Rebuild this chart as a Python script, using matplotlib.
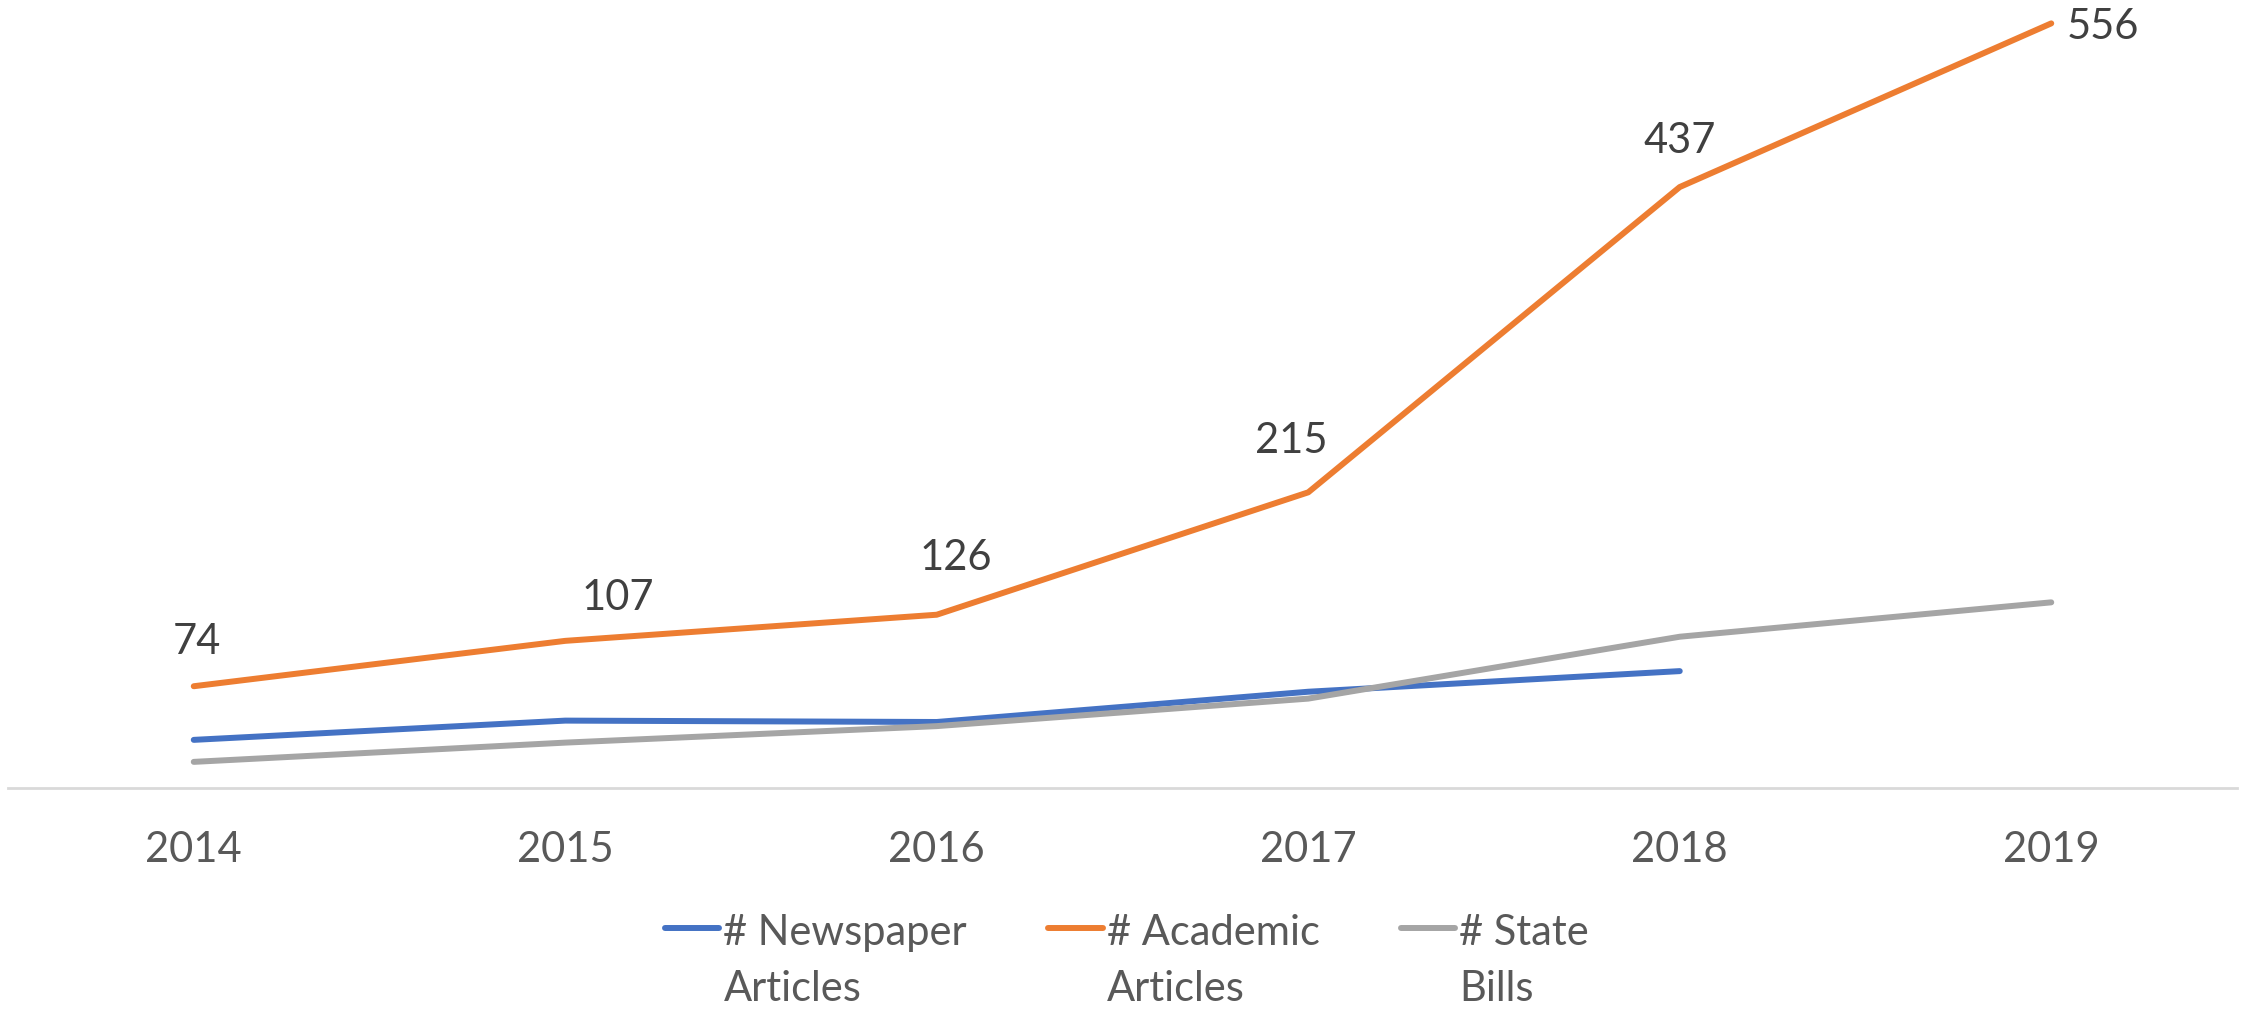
# plot.py
# Newspaper articles, academic articles and state bills per year

import matplotlib
matplotlib.use("Agg")
import matplotlib.pyplot as plt

# Data
YEARS = ["2014", "2015", "2016", "2017", "2018", "2019"]
NEWSPAPER = [35, 49, 48, 70, 85, None]
ACADEMIC = [74, 107, 126, 215, 437, 556]
STATE_BILLS = [19, 33, 45, 65, 110, 135]
SERIES_NAMES = ["# Newspaper\nArticles", "# Academic\nArticles", "# State\nBills"]

COLORS = ["#4472C4", "#ED7D31", "#A5A5A5"]
# pixel offsets of the orange data labels (Excel placed them by hand)
LABEL_OFFSETS = [(3, 44), (53, 43), (19, 57), (-17, 51), (0, 46), (52, -4)]

W, H = 2254, 1010
DPI = 100


def main():
    plt.rcParams['font.family'] = ['Lato', 'DejaVu Sans']
    fig = plt.figure(figsize=(W / DPI, H / DPI), dpi=DPI)
    ax = fig.add_axes([8 / W, 1 - 788 / H, (2237 - 8) / W, 788 / H])

    x = list(range(len(YEARS)))
    for vals, name, col in zip([NEWSPAPER, ACADEMIC, STATE_BILLS], SERIES_NAMES, COLORS):
        xs = [i for i, v in zip(x, vals) if v is not None]
        ys = [v for v in vals if v is not None]
        ax.plot(xs, ys, color=col, lw=4.3, solid_capstyle='round',
                solid_joinstyle='round', label=name)

    for i, v in enumerate(ACADEMIC):
        dx, dy = LABEL_OFFSETS[i]
        ax.annotate(str(v), (i, v), xytext=(dx, dy), textcoords='offset pixels',
                    ha='center', va='center', fontsize=30, color='#404040')

    ax.set_xlim(-0.5, len(YEARS) - 0.5)
    ax.set_ylim(0, 573)
    ax.set_xticks(x)
    ax.set_xticklabels(YEARS, fontsize=30, color='#595959')
    ax.set_yticks([])
    ax.tick_params(axis='x', length=0, pad=31)
    for s in ['top', 'left', 'right']:
        ax.spines[s].set_visible(False)
    ax.spines['bottom'].set_color('#D9D9D9')
    ax.spines['bottom'].set_linewidth(2)

    leg = fig.legend(loc='upper center', bbox_to_anchor=(0.5, 1 - 893 / H), ncol=3,
                     frameon=False, fontsize=30, handlelength=1.3, handletextpad=0.1,
                     columnspacing=1.95, borderpad=0, labelcolor='#595959')
    for t in leg.get_texts():
        t.set_linespacing(1.6)
    # put the handle on the first line of the wrapped label, like Excel
    for col in leg._legend_handle_box.get_children():
        for item in col.get_children():
            item.align = "top"

    fig.savefig("out.png", dpi=DPI)


if __name__ == "__main__":
    main()
